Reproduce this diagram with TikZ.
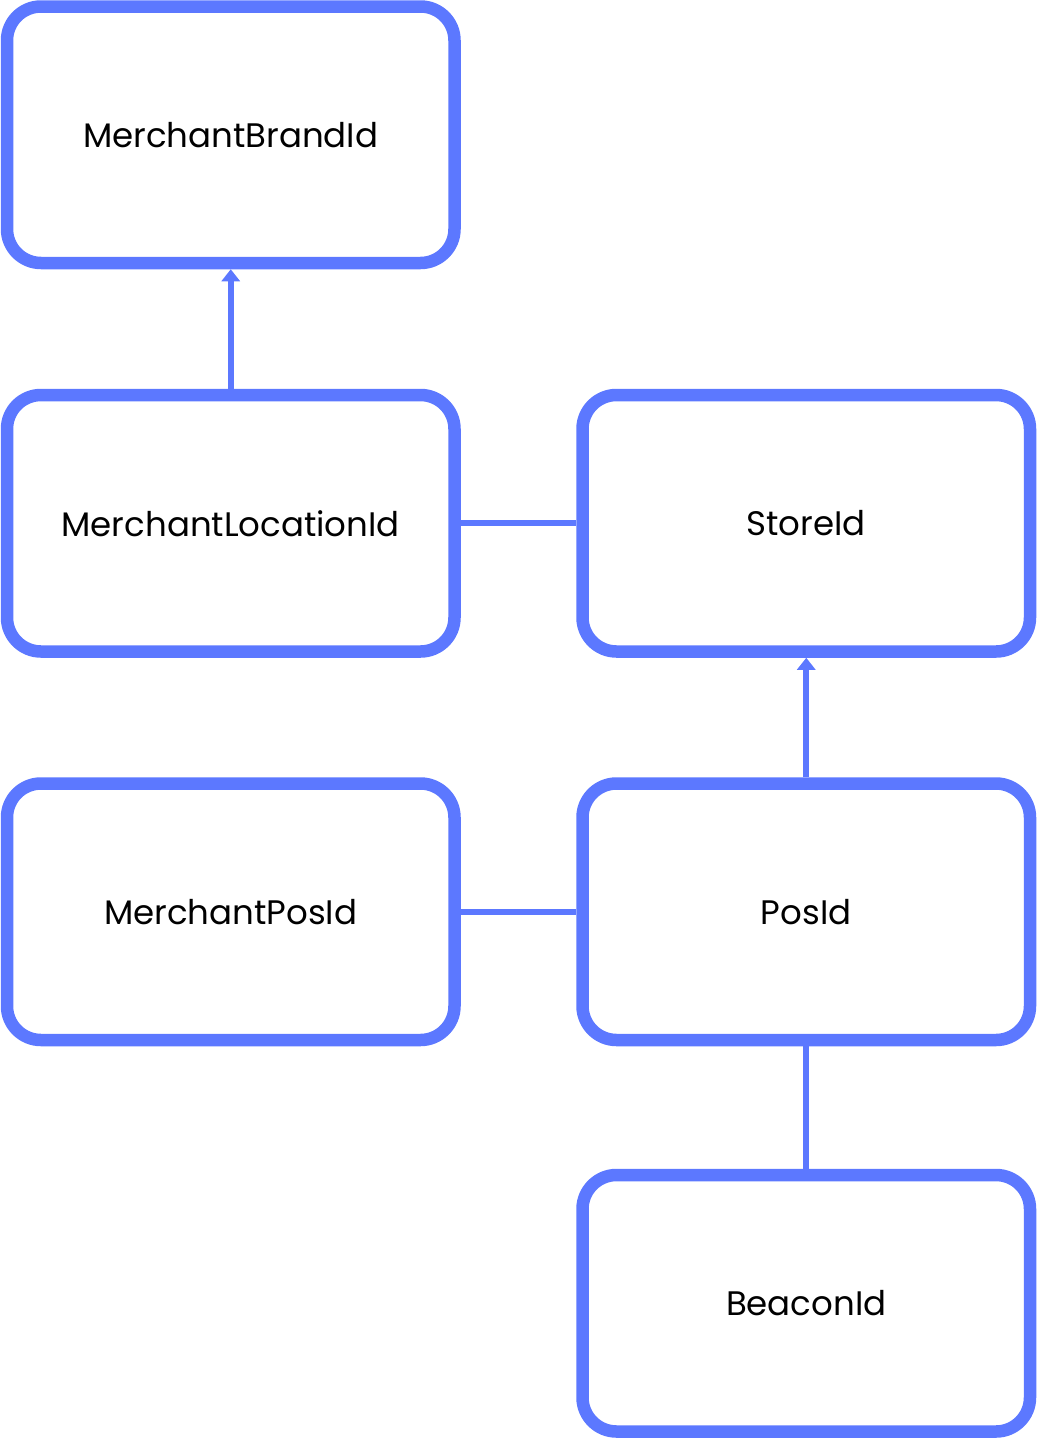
\documentclass[tikz,border=0pt]{standalone}
\usepackage{fontspec}
\setmainfont{Poppins}
\usetikzlibrary{arrows.meta}
\definecolor{idblue}{RGB}{92,120,255}
\tikzset{
    idbox/.style={draw=idblue, line width=6.25pt, rounded corners=17pt,
        minimum width=223.75pt, minimum height=128.25pt, font=\fontsize{17}{20}\selectfont},
    link/.style={draw=idblue, line width=3pt},
    refers/.style={link, -{Triangle[width=9pt,length=6pt]}}
}
\begin{document}
\begin{tikzpicture}[x=0.5pt, y=-0.5pt]
        \useasboundingbox (0,0) rectangle (1037,1440);

        % id boxes
        \node[idbox] (brand) at (230.75, 134.75) {MerchantBrandId};
        \node[idbox] (location) at (230.75, 523.25) {MerchantLocationId};
        \node[idbox] (store) at (806.25, 523.25) {StoreId};
        \node[idbox] (merchpos) at (230.75, 911.75) {MerchantPosId};
        \node[idbox] (pos) at (806.25, 911.75) {PosId};
        \node[idbox] (beacon) at (806.25, 1303.25) {BeaconId};

        % links
        \draw[refers] (location.north) -- (brand.south);
        \draw[refers] (pos.north) -- (store.south);
        \draw[link] (location.east) -- (store.west);
        \draw[link] (merchpos.east) -- (pos.west);
        \draw[link] (pos.south) -- (beacon.north);
    \end{tikzpicture}
\end{document}
